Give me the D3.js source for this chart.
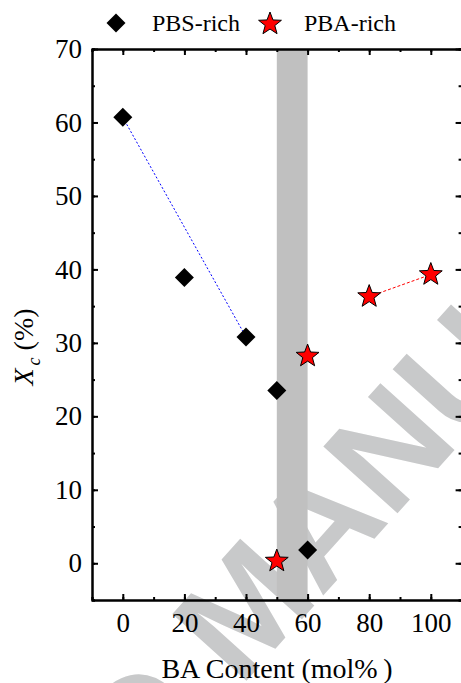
<!DOCTYPE html>
<html>
<head>
<meta charset="utf-8">
<script src="https://cdn.jsdelivr.net/npm/d3@7"></script>
<style>
  body { margin: 0; background: #fff; }
  svg { display: block; }
</style>
</head>
<body>
<svg id="chart" width="461" height="683"></svg>
<script>
// data
var pbsX = [0, 20, 40, 50, 60];
var pbsY = [60.7, 38.9, 30.8, 23.5, 1.8];
var pbaX = [50, 60, 80, 100];
var pbaY = [0.3, 28.2, 36.3, 39.3];
var pbsFitX = [0, 40];
var pbsFitY = [60.7, 30.8];
var pbaFitX = [80, 100];
var pbaFitY = [36.3, 39.3];
var bandX = [50, 60];
var xTicks = [0, 20, 40, 60, 80, 100];
var yTicks = [0, 10, 20, 30, 40, 50, 60, 70];

var svg = d3.select("#chart");
var serif = '"Times New Roman", "Liberation Serif", serif';

var x = d3.scaleLinear().domain([-10, 110]).range([92, 461.6]);
var y = d3.scaleLinear().domain([-5, 70]).range([600, 49]);

// watermark
var wm = svg.append("g")
  .attr("transform", "translate(240,688) rotate(-48)")
  .style("font-family", '"Liberation Sans", Arial, sans-serif')
  .style("font-weight", "bold")
  .style("font-size", "145px")
  .attr("fill", "#c8c9ca");
wm.append("text").attr("text-anchor", "end").text("ACCEPTED\u00a0");
wm.append("text").attr("text-anchor", "start").text("MANUSCRIPT");

// gray band
svg.append("rect")
  .attr("x", x(bandX[0]))
  .attr("y", y(70))
  .attr("width", x(bandX[1]) - x(bandX[0]))
  .attr("height", y(-5) - y(70))
  .attr("fill", "#c0c0c0");

// dotted / dashed guide lines
var line = d3.line().x(function(d){return x(d[0]);}).y(function(d){return y(d[1]);});
svg.append("path")
  .attr("d", line(d3.zip(pbsFitX, pbsFitY)))
  .attr("stroke", "#0000ff").attr("stroke-width", 1)
  .attr("stroke-dasharray", "2,2").attr("fill", "none");
svg.append("path")
  .attr("d", line(d3.zip(pbaFitX, pbaFitY)))
  .attr("stroke", "#ff0000").attr("stroke-width", 1)
  .attr("stroke-dasharray", "3,2").attr("fill", "none");

// axes
function styleAxis(g){
  g.select(".domain").attr("stroke", "#000").attr("stroke-width", 2);
  g.selectAll(".tick line").attr("stroke", "#000").attr("stroke-width", 2);
  g.selectAll(".tick text")
    .style("font-family", serif).style("font-size", "27px").attr("fill", "#000");
}
var minorX = d3.range(-10, 111, 10);
var minorY = d3.range(-5, 71, 5);

svg.append("g").attr("transform", "translate(0," + y(-5) + ")")
  .call(d3.axisBottom(x).tickValues(minorX).tickSize(-3).tickFormat(""))
  .call(styleAxis);
svg.append("g").attr("transform", "translate(0," + y(-5) + ")")
  .call(d3.axisBottom(x).tickValues(xTicks).tickSize(-6).tickPadding(13).tickSizeOuter(0))
  .call(styleAxis);
svg.append("g").attr("transform", "translate(0," + y(70) + ")")
  .call(d3.axisTop(x).tickValues(minorX).tickSize(-3).tickFormat(""))
  .call(styleAxis);
svg.append("g").attr("transform", "translate(0," + y(70) + ")")
  .call(d3.axisTop(x).tickValues(xTicks).tickSize(-6).tickFormat("").tickSizeOuter(0))
  .call(styleAxis);

svg.append("g").attr("transform", "translate(" + x(-10) + ",0)")
  .call(d3.axisLeft(y).tickValues(minorY).tickSize(-3).tickFormat(""))
  .call(styleAxis);
svg.append("g").attr("transform", "translate(" + x(-10) + ",0)")
  .call(d3.axisLeft(y).tickValues(yTicks).tickSize(-6).tickPadding(10).tickSizeOuter(0))
  .call(styleAxis);
svg.append("g").attr("transform", "translate(" + x(110) + ",0)")
  .call(d3.axisRight(y).tickValues(minorY).tickSize(-3).tickFormat(""))
  .call(styleAxis);
svg.append("g").attr("transform", "translate(" + x(110) + ",0)")
  .call(d3.axisRight(y).tickValues(yTicks).tickSize(-6).tickFormat("").tickSizeOuter(0))
  .call(styleAxis);

// markers
function diamond(r){
  return "M0," + (-r) + "L" + r + ",0L0," + r + "L" + (-r) + ",0Z";
}
function star(R){
  var r = R * 0.42, pts = [];
  for (var i = 0; i < 10; i++) {
    var a = -Math.PI / 2 + i * Math.PI / 5;
    var rr = i % 2 === 0 ? R : r;
    pts.push([rr * Math.cos(a), rr * Math.sin(a)]);
  }
  return "M" + pts.join("L") + "Z";
}

svg.append("g").selectAll("path").data(d3.zip(pbsX, pbsY)).enter()
  .append("path")
  .attr("transform", function(d){return "translate(" + x(d[0]) + "," + y(d[1]) + ")";})
  .attr("d", diamond(9.5))
  .attr("fill", "#000");

svg.append("g").selectAll("path").data(d3.zip(pbaX, pbaY)).enter()
  .append("path")
  .attr("transform", function(d){return "translate(" + x(d[0]) + "," + y(d[1]) + ")";})
  .attr("d", star(12))
  .attr("fill", "#ff0000").attr("stroke", "#000").attr("stroke-width", 1);

// axis titles
svg.append("text")
  .attr("x", 277).attr("y", 678)
  .attr("text-anchor", "middle")
  .style("font-family", serif).style("font-size", "28px")
  .text("BA Content (mol%\u2009)");

var yt = svg.append("text")
  .attr("transform", "translate(33,347) rotate(-90)")
  .attr("text-anchor", "middle")
  .style("font-family", serif).style("font-size", "28px");
yt.append("tspan").style("font-style", "italic").text("X");
yt.append("tspan").style("font-style", "italic").style("font-size", "18px").attr("dx", 3).attr("dy", 7).text("c");
yt.append("tspan").attr("dy", -7).text(" (%)");

// legend
var leg = svg.append("g").style("font-family", serif).style("font-size", "24px");
leg.append("path").attr("transform", "translate(116,23)").attr("d", diamond(9.5)).attr("fill", "#000");
leg.append("text").attr("x", 152).attr("y", 31).text("PBS-rich");
leg.append("path").attr("transform", "translate(270,24)").attr("d", star(12))
  .attr("fill", "#ff0000").attr("stroke", "#000").attr("stroke-width", 1);
leg.append("text").attr("x", 304).attr("y", 31).text("PBA-rich");
</script>
</body>
</html>
